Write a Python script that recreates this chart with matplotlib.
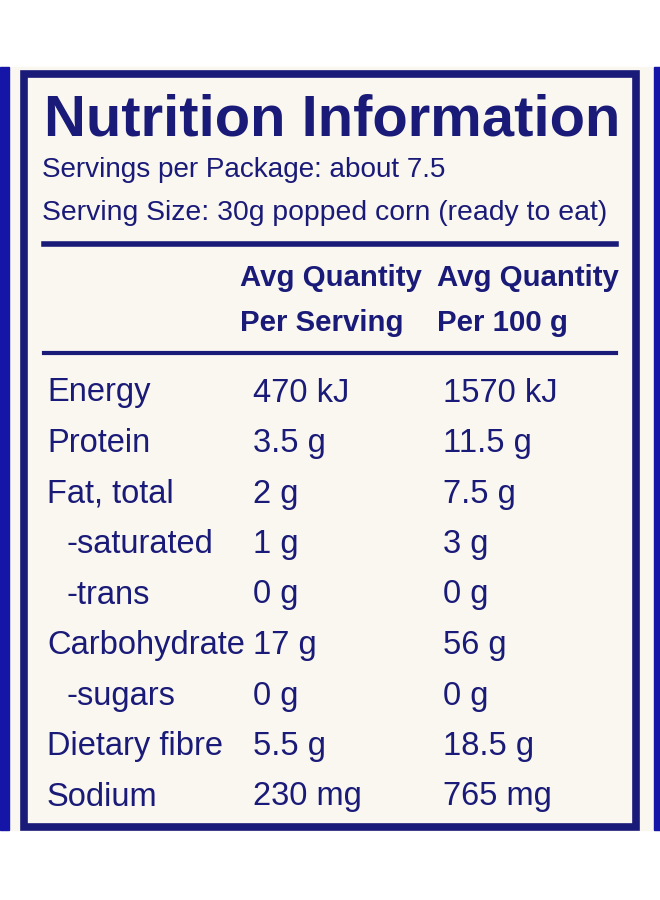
import matplotlib
matplotlib.use('Agg')
import matplotlib.pyplot as plt
from matplotlib.patches import Rectangle

plt.rcParams['font.family'] = ['Liberation Sans', 'DejaVu Sans']

title = 'Nutrition Information'
servings = 'Servings per Package: about 7.5'
serving_size = 'Serving Size: 30g popped corn (ready to eat)'
headers = [('Avg Quantity', 'Per Serving'), ('Avg Quantity', 'Per 100 g')]
nutrients = ['Energy', 'Protein', 'Fat, total', '-saturated', '-trans',
             'Carbohydrate', '-sugars', 'Dietary fibre', 'Sodium']
per_serving = ['470 kJ', '3.5 g', '2 g', '1 g', '0 g', '17 g', '0 g', '5.5 g', '230 mg']
per_100g = ['1570 kJ', '11.5 g', '7.5 g', '3 g', '0 g', '56 g', '0 g', '18.5 g', '765 mg']

navy = '#1a1a78'
blue = '#1515a8'
cream = '#f9f7ef'

fig = plt.figure(figsize=(6.6, 9), dpi=100)
ax = fig.add_axes([0, 0, 1, 1])
ax.set_xlim(0, 660)
ax.set_ylim(900, 0)
ax.axis('off')
renderer = fig.canvas.get_renderer()


def fit(t, width):
    # shrink the font so the text spans the given pixel width
    w = t.get_window_extent(renderer).width
    t.set_fontsize(t.get_fontsize() * width / w)


# panel, side strips and border
ax.add_patch(Rectangle((0, 67), 660, 763, color=cream))
ax.add_patch(Rectangle((0, 67), 9, 763, color=blue))
ax.add_patch(Rectangle((654, 67), 6, 763, color=blue))
ax.add_patch(Rectangle((24, 74), 612, 753, fill=False, ec=navy, lw=5.5))

t = ax.text(44, 120, title, fontsize=44, fontweight='bold', color=navy, va='center')
fit(t, 576)
t = ax.text(42, 170, servings, fontsize=23, color=navy, va='center')
fit(t, 404)
t = ax.text(42, 213, serving_size, fontsize=23, color=navy, va='center')
fit(t, 566)

ax.plot([44, 616], [244, 244], color=navy, lw=4)
ax.plot([44, 616], [353, 353], color=navy, lw=3)

for x, (h1, h2) in zip([240, 437], headers):
    t = ax.text(x, 278, h1, fontsize=23, fontweight='bold', color=navy, va='center')
    fit(t, 182)
    fs = t.get_fontsize()
    ax.text(x, 323, h2, fontsize=fs, fontweight='bold', color=navy, va='center')

# size the row text from the widest label
probe = ax.text(0, 0, 'Carbohydrate', fontsize=27)
fit(probe, 198)
row_fs = probe.get_fontsize()
probe.remove()

for i, (name, a, b) in enumerate(zip(nutrients, per_serving, per_100g)):
    y = 393 + i * 50.5
    x = 67 if name.startswith('-') else 47
    ax.text(x, y, name, fontsize=row_fs, color=navy, va='center')
    ax.text(253, y, a, fontsize=row_fs, color=navy, va='center')
    ax.text(443, y, b, fontsize=row_fs, color=navy, va='center')

fig.savefig('out.png', dpi=100, facecolor='white')
